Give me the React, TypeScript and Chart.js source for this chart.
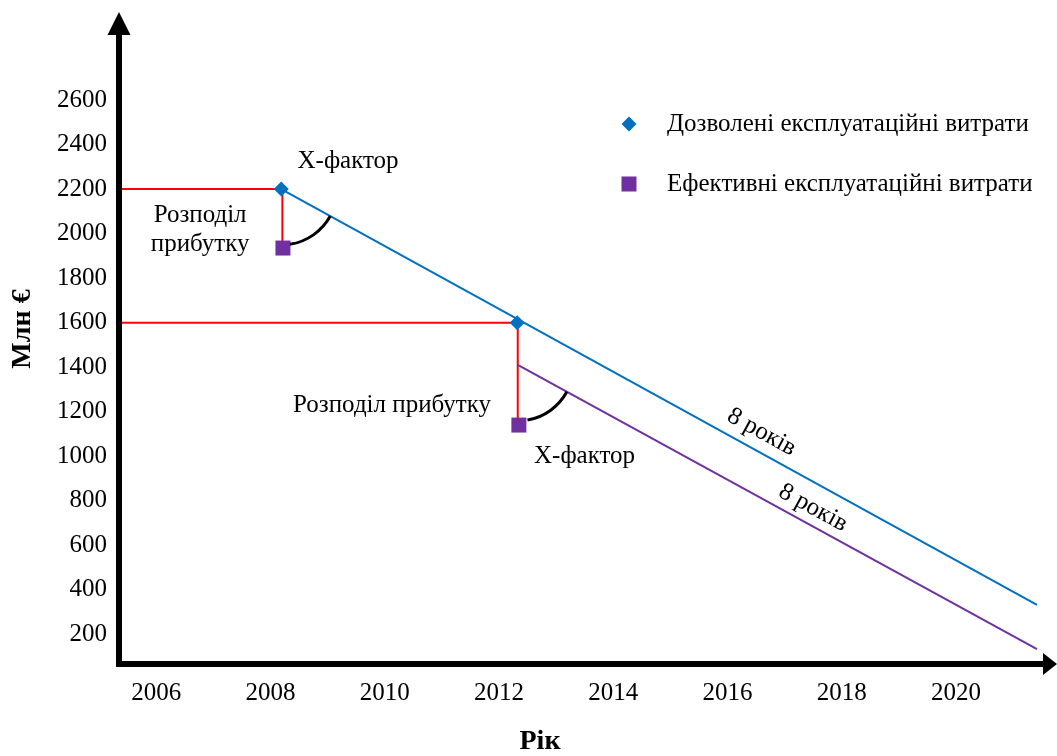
import React, { useEffect, useRef } from "react";
import { Chart, registerables } from "chart.js";

Chart.register(...registerables);

// ---- Data ----
const xTickYears = [2006, 2008, 2010, 2012, 2014, 2016, 2018, 2020];
const yTickValues = [200, 400, 600, 800, 1000, 1200, 1400, 1600, 1800, 2000, 2200, 2400, 2600];

const allowedPoints = [
  { x: 2008.19, y: 2200 },
  { x: 2012.32, y: 1600 },
];
const effectivePoints = [
  { x: 2008.22, y: 1935 },
  { x: 2012.35, y: 1140 },
];
const allowedLine = [
  { x: 2008.19, y: 2200 },
  { x: 2021.42, y: 332 },
];
const effectiveLine = [
  { x: 2012.33, y: 1410 },
  { x: 2021.42, y: 134 },
];
const redGuide1 = [
  { x: 2005.35, y: 2200 },
  { x: 2008.21, y: 2200 },
  { x: 2008.21, y: 1935 },
];
const redGuide2 = [
  { x: 2005.35, y: 1600 },
  { x: 2012.33, y: 1600 },
  { x: 2012.33, y: 1140 },
];

const legendLabels = ["Дозволені експлуатаційні витрати", "Ефективні експлуатаційні витрати"];
const xTitle = "Рік";
const yTitle = "Млн €";

// annotation texts with anchor in data coordinates
const annotations = [
  { text: "X-фактор", x: 2009.36, y: 2323, rot: 0 },
  { text: "Розподіл", x: 2006.77, y: 2082, rot: 0 },
  { text: "прибутку", x: 2006.77, y: 1950, rot: 0 },
  { text: "Розподіл прибутку", x: 2010.13, y: 1227, rot: 0 },
  { text: "X-фактор", x: 2013.5, y: 1000, rot: 0 },
  { text: "8 років", x: 2016.6, y: 1108, rot: 28.8 },
  { text: "8 років", x: 2017.5, y: 768, rot: 28.8 },
];

const X_MIN = 2005.35;
const X_MAX = 2021.77;
const Y_MIN = 67;
const Y_MAX = 2995;

const BLUE = "#0070C0";
const PURPLE = "#7030A0";
const RED = "#FF0000";
const FONT = "'Liberation Serif', 'Times New Roman', serif";

const overlay = {
  id: "overlay",
  afterDatasetsDraw(chart: any) {
    const ctx = chart.ctx;
    const xs = chart.scales.x;
    const ys = chart.scales.y;
    const area = chart.chartArea;
    const ax = area.left;
    const ay = area.bottom;

    ctx.save();

    // arcs (X-factor angles)
    const drawArc = (cx: number, cy: number, r: number, a0: number, a1: number) => {
      ctx.beginPath();
      ctx.strokeStyle = "#000";
      ctx.lineWidth = 3;
      ctx.arc(cx, cy, r, a0, a1);
      ctx.stroke();
    };
    {
      const cx = xs.getPixelForValue(allowedLine[0].x);
      const cy = ys.getPixelForValue(allowedLine[0].y);
      const ex = xs.getPixelForValue(allowedLine[1].x);
      const ey = ys.getPixelForValue(allowedLine[1].y);
      const a0 = Math.atan2(ey - cy, ex - cx);
      drawArc(cx, cy, 56, a0, (81 * Math.PI) / 180);
    }
    {
      const cx = xs.getPixelForValue(effectiveLine[0].x);
      const cy = ys.getPixelForValue(effectiveLine[0].y);
      const ex = xs.getPixelForValue(effectiveLine[1].x);
      const ey = ys.getPixelForValue(effectiveLine[1].y);
      const a0 = Math.atan2(ey - cy, ex - cx);
      drawArc(cx, cy, 56, a0, (80 * Math.PI) / 180);
    }

    // axes
    ctx.fillStyle = "#000";
    ctx.strokeStyle = "#000";
    ctx.lineWidth = 6;
    ctx.lineCap = "butt";
    ctx.beginPath();
    ctx.moveTo(ax, ay + 3);
    ctx.lineTo(ax, area.top + 23);
    ctx.stroke();
    ctx.beginPath();
    ctx.moveTo(ax - 3, ay);
    ctx.lineTo(area.right - 14, ay);
    ctx.stroke();
    // arrow heads
    ctx.beginPath();
    ctx.moveTo(ax, area.top);
    ctx.lineTo(ax - 11.5, area.top + 23);
    ctx.lineTo(ax + 11.5, area.top + 23);
    ctx.closePath();
    ctx.fill();
    ctx.beginPath();
    ctx.moveTo(area.right, ay);
    ctx.lineTo(area.right - 14, ay - 11);
    ctx.lineTo(area.right - 14, ay + 11);
    ctx.closePath();
    ctx.fill();

    // tick labels
    ctx.fillStyle = "#000";
    ctx.font = `25px ${FONT}`;
    ctx.textBaseline = "middle";
    ctx.textAlign = "right";
    yTickValues.forEach((v) => {
      ctx.fillText(String(v), ax - 12, ys.getPixelForValue(v));
    });
    ctx.textAlign = "center";
    xTickYears.forEach((v) => {
      ctx.fillText(String(v), xs.getPixelForValue(v), ay + 29);
    });

    // axis titles
    ctx.font = `bold 28px ${FONT}`;
    ctx.textAlign = "center";
    ctx.fillText(xTitle, 540, ay + 78);
    ctx.save();
    ctx.translate(23, 329);
    ctx.rotate(-Math.PI / 2);
    ctx.fillText(yTitle, 0, 0);
    ctx.restore();

    // annotations
    ctx.font = `25px ${FONT}`;
    annotations.forEach((a) => {
      const px = xs.getPixelForValue(a.x);
      const py = ys.getPixelForValue(a.y);
      ctx.save();
      ctx.translate(px, py);
      ctx.rotate((a.rot * Math.PI) / 180);
      ctx.textAlign = "center";
      ctx.textBaseline = "middle";
      ctx.fillText(a.text, 0, 0);
      ctx.restore();
    });

    // legend
    const lx = 629;
    const ly1 = 124;
    const ly2 = 184;
    ctx.fillStyle = BLUE;
    ctx.beginPath();
    ctx.moveTo(lx, ly1 - 7.5);
    ctx.lineTo(lx + 7.5, ly1);
    ctx.lineTo(lx, ly1 + 7.5);
    ctx.lineTo(lx - 7.5, ly1);
    ctx.closePath();
    ctx.fill();
    ctx.fillStyle = PURPLE;
    ctx.fillRect(lx - 7.5, ly2 - 7.5, 15, 15);
    ctx.fillStyle = "#000";
    ctx.textAlign = "left";
    ctx.textBaseline = "middle";
    ctx.font = `25px ${FONT}`;
    ctx.fillText(legendLabels[0], 667, ly1);
    ctx.fillText(legendLabels[1], 667, ly2);

    ctx.restore();
  },
};

export default function App() {
  const ref = useRef<HTMLCanvasElement | null>(null);
  useEffect(() => {
    if (!ref.current) return;
    const chart = new Chart(ref.current, {
      type: "scatter",
      data: {
        datasets: [
          {
            label: legendLabels[0],
            data: allowedPoints,
            pointStyle: "rectRot",
            pointRadius: 7.5,
            pointBackgroundColor: BLUE,
            pointBorderWidth: 0,
            showLine: false,
            order: 0,
            clip: false,
          },
          {
            label: legendLabels[1],
            data: effectivePoints,
            pointStyle: "rect",
            pointRadius: 10.6,
            pointBackgroundColor: PURPLE,
            pointBorderWidth: 0,
            showLine: false,
            order: 1,
            clip: false,
          },
          {
            label: "allowed-line",
            data: allowedLine,
            showLine: true,
            borderColor: BLUE,
            borderWidth: 2,
            pointRadius: 0,
            order: 2,
            clip: false,
          },
          {
            label: "effective-line",
            data: effectiveLine,
            showLine: true,
            borderColor: PURPLE,
            borderWidth: 2,
            pointRadius: 0,
            order: 3,
            clip: false,
          },
          {
            label: "red1",
            data: redGuide1,
            showLine: true,
            borderColor: RED,
            borderWidth: 2,
            pointRadius: 0,
            order: 4,
            clip: false,
          },
          {
            label: "red2",
            data: redGuide2,
            showLine: true,
            borderColor: RED,
            borderWidth: 2,
            pointRadius: 0,
            order: 5,
            clip: false,
          },
        ],
      },
      options: {
        animation: false,
        responsive: false,
        layout: { autoPadding: false, padding: { left: 119, top: 12, right: 0, bottom: 92 } },
        plugins: { legend: { display: false }, tooltip: { enabled: false } },
        scales: {
          x: { type: "linear", min: X_MIN, max: X_MAX, display: false },
          y: { type: "linear", min: Y_MIN, max: Y_MAX, display: false },
        },
      },
      plugins: [overlay],
    } as any);
    return () => chart.destroy();
  }, []);
  return (
    <div style={{ position: "absolute", left: 0, top: 0, width: 1057, height: 756, background: "#fff" }}>
      <canvas ref={ref} width={1057} height={756} style={{ width: 1057, height: 756 }} />
    </div>
  );
}
